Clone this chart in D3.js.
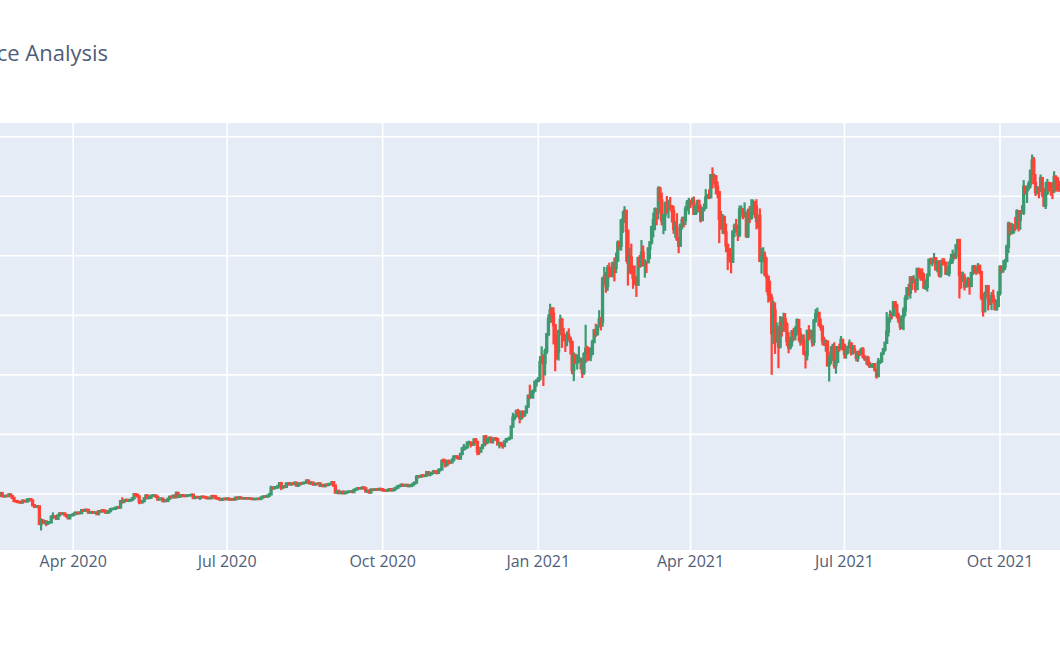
<!DOCTYPE html>
<html>
<head>
<meta charset="utf-8">
<script src="https://cdnjs.cloudflare.com/ajax/libs/d3/7.8.5/d3.min.js"></script>
<style>
  html, body { margin: 0; padding: 0; background: #fff; }
  svg { display: block; }
</style>
</head>
<body>
<svg id="chart" width="1060" height="650"></svg>
<script>
// ---------------- DATA (BTC-USD daily) ----------------
const titleText = "Bitcoin Price Analysis";
const firstOpen = 10363;
// first day of each row below
const rowStarts = ["2020-02-15","2020-03-01","2020-04-01","2020-05-01","2020-06-01","2020-07-01","2020-08-01","2020-09-01","2020-10-01","2020-11-01","2020-12-01","2021-01-01","2021-02-01","2021-03-01","2021-04-01","2021-05-01","2021-06-01","2021-07-01","2021-08-01","2021-09-01","2021-10-01","2021-11-01"];
const closes = [
[9889,9934,9690,10142,9633,9608,9687,9663,9924,9650,9342,8820,8785,8672,8599],
[8562,8869,8787,8755,9078,9122,8909,8108,7923,7909,7911,4970,5563,5200,5392,5014,5225,5238,6191,6198,6185,5830,6416,6734,6681,6716,6469,6243,5922,6429,6438],
[6607,6794,6733,6868,6792,7272,7177,7336,7303,6861,6884,6944,6845,6879,6624,7097,7047,7250,7158,6880,6884,7118,7434,7508,7514,7667,7782,7733,8767,8658],
[8864,8988,8897,8912,9003,9268,9951,9842,9593,8756,8601,8804,9269,9733,9328,9377,9670,9727,9730,9518,9082,9182,9210,8790,8906,8835,9181,9525,9439,9700,9461],
[10167,9529,9657,9800,9665,9653,9759,9772,9781,9875,9321,9480,9475,9386,9450,9538,9480,9412,9288,9333,9300,9648,9629,9313,9265,9163,9010,9116,9192,9138],
[9232,9087,9061,9136,9073,9375,9252,9428,9277,9278,9240,9277,9243,9243,9192,9132,9151,9160,9185,9165,9393,9537,9608,9550,9705,9934,11030,10947,11093,11110,11325],
[11800,11071,11219,11191,11744,11763,11601,11755,11675,11879,11410,11584,11785,11767,11865,11893,12254,11991,11758,11879,11592,11681,11664,11774,11366,11488,11323,11542,11507,11655,11680],
[11970,11414,10246,10511,10169,10281,10370,10131,10242,10363,10401,10443,10323,10681,10792,10955,10944,10948,11095,10944,10417,10529,10241,10737,10690,10728,10775,10710,10845,10784],
[10619,10575,10550,10669,10794,10603,10669,10915,11064,11296,11384,11556,11425,11430,11506,11323,11360,11496,11745,11916,12823,12965,12932,13108,13031,13075,13655,13272,13437,13546,13781],
[13737,13550,14030,14131,15582,15580,14833,15479,15332,15300,15701,16277,16317,16068,15955,16716,17645,17804,17817,18621,18642,18370,18365,19107,18732,17150,17109,17718,18177,19625],
[18803,19201,19446,18700,19154,19346,19192,18321,18553,18264,18058,18803,19142,19246,19418,21311,22805,23137,23870,23477,22803,23784,23241,23736,24664,26437,26272,27084,27362,28840,29001],
[29374,32127,32782,31971,33992,36824,39371,40797,40254,38356,35566,33922,37316,39187,36825,36178,35791,36630,36069,35548,30825,33005,32067,32289,32366,32569,30432,33467,34316,34269,33115],
[33537,35510,37472,36926,38144,39266,38904,46196,46481,44919,47909,47504,47105,48717,47945,49199,52149,51679,55888,56100,57539,54207,48824,49705,47093,46339,46188,45137],
[49631,48378,50538,48561,48927,48912,51206,52246,54824,56008,57805,57332,61243,59302,55908,56804,58870,57858,58346,58313,57524,54529,54738,52774,51704,55137,55974,55947,57750,58918,58918],
[58717,58730,57057,58202,59130,57990,56006,57805,58080,59774,59965,59835,63504,63110,63314,61572,60684,56216,55724,56473,53906,51763,51093,50050,49004,54021,55033,54824,53555,57750],
[57828,56631,57200,53333,57424,56397,57357,58803,58232,55859,56704,49150,49716,49880,46760,46457,43537,42909,37002,40783,37304,37536,34770,38706,38403,39294,38437,35698,34617,35678,37332],
[36685,37555,39187,36851,35520,35796,33552,33381,37388,36675,37331,35552,39097,40218,40406,38347,38093,35820,35483,35600,31676,32505,33723,34662,31637,32186,34649,34434,35867,35041],
[33573,33898,34668,35287,33746,34236,33855,32877,33799,33520,34259,33087,32730,32822,31781,31422,31520,31778,30817,29807,32110,32314,33581,34292,35384,37276,39456,40019,40016,42206,41626],
[39975,39201,38153,39747,40870,42817,44556,43789,46366,45586,45593,44429,47794,47096,47048,46004,44695,44802,46718,49340,48910,49322,49547,47707,48994,46853,49072,48896,48807,46991,47160],
[48848,49317,50026,49945,51753,52634,46812,46091,46391,44843,45162,46030,44938,47100,48157,47764,47300,48310,47261,43012,40693,43574,44895,42840,42716,43208,42235,41034,41565,43791],
[48116,47711,48199,49112,51514,55361,53805,53967,54968,54772,57484,56041,57401,57322,61594,60887,61553,62026,64262,65992,62210,60693,61394,60931,63040,60363,58482,60622,62228,61888,61318],
[61005,63227,62970,61453,61130,61534,63320]
];
const highs = [
[10370,10040,9960,10200,10230,9690,9730,9710,9950,9990,9660,9360,8980,8890,8780],
[8750,8900,8910,8850,9150,9180,9200,8900,8150,8130,7970,7930,5940,5670,5650,5380,5410,5420,6330,6900,6440,6380,6440,6800,6930,6770,6860,6480,6260,6590,6580],
[6660,7060,7000,6920,6890,7330,7420,7370,7370,7310,6910,7150,6950,6930,6910,7200,7120,7300,7250,7180,6940,7160,7510,7600,7640,7690,7790,7780,8950,9440],
[9000,9010,9180,8950,9090,9390,10000,9950,9900,9580,8920,8990,9320,9930,9800,9560,9840,9930,9890,9790,9540,9250,9300,9300,8980,9010,9200,9570,9600,9700,9700],
[10380,10190,9690,9880,9850,9710,9770,9800,9820,9940,9940,9560,9490,9480,9490,9580,9560,9490,9430,9400,9420,9680,9680,9650,9320,9280,9190,9190,9220,9190],
[9270,9250,9120,9180,9140,9380,9370,9450,9430,9300,9270,9300,9310,9270,9270,9200,9180,9200,9220,9200,9430,9540,9650,9610,9740,10000,11390,11200,11330,11170,11430],
[11870,12030,11460,11400,11760,11900,11930,11780,11810,12070,11940,11650,11790,11940,11960,11930,12350,12300,12010,11880,11880,11690,11710,11800,11770,11540,11540,11570,11560,11700,11790],
[12040,11960,11420,10620,10550,10340,10390,10410,10350,10500,10410,10460,10450,10810,10900,11080,11000,11030,11130,11060,10970,10560,10550,10800,10760,10800,10800,10920,10880,10840],
[10900,10620,10600,10680,10800,10800,10680,10940,11110,11480,11440,11690,11560,11490,11520,11520,11400,11500,11800,12020,13190,13160,13000,13160,13340,13190,13760,13840,13600,13650,14030],
[13810,13830,14040,14230,15720,15960,15780,15650,15800,15460,15960,16320,16480,16300,16130,16850,17800,18390,17990,18720,18950,18680,18750,19350,19390,18860,17420,17820,18290,19860],
[19920,19310,19550,19500,19160,19400,19380,19290,18640,18560,18270,18930,19400,19350,19550,21470,23640,23240,24170,24290,24050,23820,24020,24000,24790,26710,28350,27390,27380,29010,29300],
[29600,33160,34780,33440,34410,36880,40180,41950,41380,41350,38260,36570,37600,40100,39580,37900,36790,37300,37820,36420,35540,33800,33580,33440,34800,32940,32560,33780,38410,34880,34640],
[34640,35900,37660,38590,38310,40860,39700,46200,48140,47310,48460,48850,48110,49000,49720,50550,52580,52530,56180,57510,58330,57530,54180,51370,52040,48370,48370,46570],
[49790,50130,52640,51740,49430,49130,51440,52380,54900,57260,58120,57940,61680,61600,60600,56880,58970,60030,59400,59880,58410,58400,55800,57150,53180,55400,56560,56570,58360,59370,59730],
[59460,59800,59960,58490,59400,59450,58590,58130,58790,61200,60390,61150,63700,64850,63790,63570,62500,60430,57530,57000,56760,55440,52060,51100,50550,54290,55410,56200,55200,58450],
[58440,57940,58970,57000,57930,58370,59500,59460,59210,59500,56860,57950,51310,51440,50700,49750,46600,45810,43550,42460,42170,38800,38240,39880,39750,40440,40380,38810,37200,36400,37470],
[37900,38220,39480,39240,37850,36760,36790,34070,37530,38350,37620,37440,39390,41060,41300,40500,39480,38200,36400,35940,35700,33300,34840,35210,35480,32700,34700,35240,36520,36030],
[35010,33940,34900,35940,35270,35030,35010,33900,34000,34240,34590,34650,33300,33070,33200,32230,31870,31960,31830,30820,32830,32550,33640,34490,35400,40550,39500,40850,40640,42320,42280],
[41950,40430,39750,39970,41350,43390,44650,45290,46460,46590,46740,46180,47830,47810,47830,47900,47130,45970,47040,49340,49690,49500,50470,49780,49240,49000,49170,49610,49580,48840,48220],
[48900,50340,51030,50520,51840,52780,52850,47330,47340,47030,45950,46450,46300,47230,48450,48460,48170,48780,48310,47260,43600,44000,45000,45000,42900,43920,44310,42770,42590,44110],
[48420,48310,49270,49460,51890,55740,55300,55490,55360,56520,57810,57640,57630,58490,62710,61700,61630,62580,64470,67000,66600,63730,61700,61500,63650,63240,61410,62410,62910,62310,62360],
[62380,64200,63530,63140,62590,61990,63320]
];
const lows = [
[9830,9800,9510,9620,9580,9450,9580,9610,9650,9550,9300,8720,8620,8470,8560],
[8400,8550,8660,8690,8760,9040,8860,8100,7630,7770,7600,4860,3860,5160,5190,4610,5030,5030,5130,5790,5940,5780,5800,6370,6620,6590,6430,6180,5890,5910,6330],
[6290,6600,6650,6720,6680,6790,7110,7140,7110,6780,6790,6800,6650,6780,6620,6590,7000,7040,7110,6830,6780,6850,7030,7410,7470,7530,7650,7710,7750,8420],
[8630,8760,8690,8630,8820,8960,9250,9790,9530,8280,8420,8580,8810,9250,9200,9270,9390,9630,9600,9480,8900,9110,9120,8700,8650,8810,8830,9150,9330,9420,9430],
[9460,9320,9490,9520,9580,9600,9530,9670,9650,9720,9180,9270,9380,9250,8990,9380,9400,9340,9220,9200,9280,9290,9580,9240,9100,9060,8970,8980,9070,9100],
[9130,9060,9060,9060,9020,9070,9240,9240,9200,9160,9210,9200,9200,9180,9170,9100,9110,9150,9140,9140,9160,9300,9470,9520,9540,9660,9930,10740,10880,10940,10960],
[11240,10640,11030,11050,11130,11590,11430,11530,11550,11560,11360,11190,11510,11680,11700,11700,11890,11780,11640,11710,11550,11420,11560,11610,11270,11200,11250,11300,11430,11480,11550],
[11560,11240,10160,10020,9950,10080,9910,10030,10140,10200,10160,10340,10180,10290,10650,10730,10800,10850,10900,10860,10390,10360,10230,10220,10620,10650,10630,10680,10680,10670],
[10440,10410,10530,10540,10620,10550,10590,10640,10830,11030,11230,11240,11320,11290,11270,11240,11300,11350,11370,11690,11900,12720,12790,12900,12890,12860,13070,13080,12960,13150,13540],
[13640,13290,13520,13790,14100,15200,14450,14770,14900,15100,15230,15470,15980,15860,15790,15900,16570,17270,17390,17750,18380,17810,18050,18080,18630,16500,16560,17020,17550,18180],
[18200,18370,18940,18600,18580,19020,18930,18270,17660,17960,17600,18030,18760,19010,19070,19300,21270,22360,22800,23130,21870,22400,22740,22990,23500,24560,25920,26100,25980,27330,28030],
[28800,29030,32000,28130,29900,33510,36490,38720,38750,35110,30600,32560,32400,36700,34540,35650,33850,34800,35910,33420,30100,28950,31840,30900,32060,30900,29480,30000,32000,32250,32400],
[32300,33490,35360,36380,36570,38140,37460,38070,45250,43790,44100,46320,46430,46360,45700,47080,48990,50950,50870,53830,55500,48970,45000,47020,47000,44450,45090,43090],
[45120,47950,48180,48260,46330,47110,48950,49410,51890,53080,54280,55130,56100,58980,55100,53620,54200,57090,56300,57860,55590,53680,53020,52500,50430,51580,54400,54770,55140,57590,56930],
[57990,58510,56950,56880,57170,57400,55590,55910,57440,58080,59550,59500,59950,61300,62080,60300,59670,52120,54370,53660,53600,50600,47600,48970,47050,48870,53140,53990,52480,53130],
[57080,56130,56460,53010,52980,55480,56040,56800,56340,54440,54620,48990,46990,48860,46670,43870,42120,42400,30000,35200,33530,35400,31110,34420,36420,37220,37230,34840,33630,34260,34750],
[35730,35810,37180,35620,34890,35280,33450,31070,32410,35790,35980,34730,34900,38780,39640,38140,37430,34960,34850,33880,31360,28890,31790,32320,31050,30200,32000,33900,34280,34060],
[32730,32720,33460,34450,33250,33420,33800,32280,32180,33170,33360,32770,32340,31720,31500,31170,31270,31150,30600,29360,29650,31800,32040,33480,33910,35300,36440,38800,39360,39900,41120],
[39480,38680,37550,37700,37500,39860,42570,43200,42800,44260,45380,43800,44280,46190,45830,45870,44420,44270,43990,46690,48570,48240,49050,47650,47210,46380,46340,48370,48400,47000,46700],
[46530,48600,48670,49440,49450,50980,42830,44460,45580,44180,44770,44800,43470,44750,46790,47060,46790,47080,46870,42530,39790,40570,43100,40820,41710,40880,42150,40940,40800,41430],
[43300,47060,47150,47610,49080,50460,53400,53660,53750,54180,54460,54090,54370,57020,56850,60250,58870,60980,61330,63580,62060,60030,60300,59650,60720,59840,58180,57850,60210,60820,60100],
[59510,60530,60810,60770,60770,60740,61420]
];
const yGridValues = [10000,20000,30000,40000,50000,60000,70000];
const xTickMonths = ["2020-04-01","2020-07-01","2020-10-01","2021-01-01","2021-04-01","2021-07-01","2021-10-01"];

// ---------------- BUILD ROWS ----------------
const parse = d3.utcParse("%Y-%m-%d");
const candles = [];
let prevClose = firstOpen;
rowStarts.forEach((s, r) => {
  const start = parse(s);
  closes[r].forEach((c, i) => {
    const o = prevClose;
    const h = Math.max(highs[r][i], o, c);
    const l = Math.min(lows[r][i], o, c);
    candles.push({date: d3.utcDay.offset(start, i), open: o, high: h, low: l, close: c});
    prevClose = c;
  });
});

// ---------------- LAYOUT ----------------
const plot = {left: 0, right: 1060, top: 123, bottom: 550};
const svg = d3.select("#chart");

const x = d3.scaleUtc()
  .domain([parse(xTickMonths[0]), parse(xTickMonths[6])])
  .range([73.2, 1000]);
const y = d3.scaleLinear()
  .domain([0, 70000])
  .range([553.5, 136.7]);

// background
svg.append("rect").attr("x", plot.left).attr("y", plot.top)
  .attr("width", plot.right - plot.left).attr("height", plot.bottom - plot.top)
  .attr("fill", "#E5ECF6");

// grid
const grid = svg.append("g");
grid.selectAll("line.h").data(yGridValues).join("line")
  .attr("class", "h")
  .attr("x1", plot.left).attr("x2", plot.right)
  .attr("y1", d => y(d)).attr("y2", d => y(d))
  .attr("stroke", "#fff").attr("stroke-width", 1.6);
grid.selectAll("line.v").data(xTickMonths.map(parse)).join("line")
  .attr("class", "v")
  .attr("x1", d => x(d)).attr("x2", d => x(d))
  .attr("y1", plot.top).attr("y2", plot.bottom)
  .attr("stroke", "#fff").attr("stroke-width", 1.6);

// clip
svg.append("clipPath").attr("id", "clip").append("rect")
  .attr("x", plot.left).attr("y", plot.top)
  .attr("width", plot.right - plot.left).attr("height", plot.bottom - plot.top);

const inc = "#3D9970", dec = "#FF4136";
const g = svg.append("g").attr("clip-path", "url(#clip)");
const bodyW = 0.9;
const cg = g.selectAll("g.c").data(candles).join("g").attr("class", "c");
cg.append("line")
  .attr("x1", d => x(d.date)).attr("x2", d => x(d.date))
  .attr("y1", d => y(d.high)).attr("y2", d => y(d.low))
  .attr("stroke", d => d.close >= d.open ? inc : dec)
  .attr("stroke-width", 2.2);
cg.append("rect")
  .attr("x", d => x(d.date) - bodyW / 2)
  .attr("width", bodyW)
  .attr("y", d => y(Math.max(d.open, d.close)))
  .attr("height", d => Math.max(0.01, y(Math.min(d.open, d.close)) - y(Math.max(d.open, d.close))))
  .attr("fill", d => d.close >= d.open ? inc : dec)
  .attr("fill-opacity", 0.5)
  .attr("stroke", d => d.close >= d.open ? inc : dec)
  .attr("stroke-width", 2.4);

// x axis labels
const fmt = d3.utcFormat("%b %Y");
svg.append("g").selectAll("text").data(xTickMonths.map(parse)).join("text")
  .attr("x", d => x(d)).attr("y", 567)
  .attr("text-anchor", "middle")
  .attr("font-family", "'Open Sans', sans-serif")
  .attr("font-size", 16)
  .attr("fill", "#4f5d78")
  .text(d => fmt(d));

// title (left part runs off the page edge, as in the reference crop)
svg.append("text")
  .attr("x", 108).attr("y", 61)
  .attr("text-anchor", "end")
  .attr("font-family", "'Open Sans', sans-serif")
  .attr("font-size", 22)
  .attr("fill", "#4f5d78")
  .text(titleText);
</script>
</body>
</html>
